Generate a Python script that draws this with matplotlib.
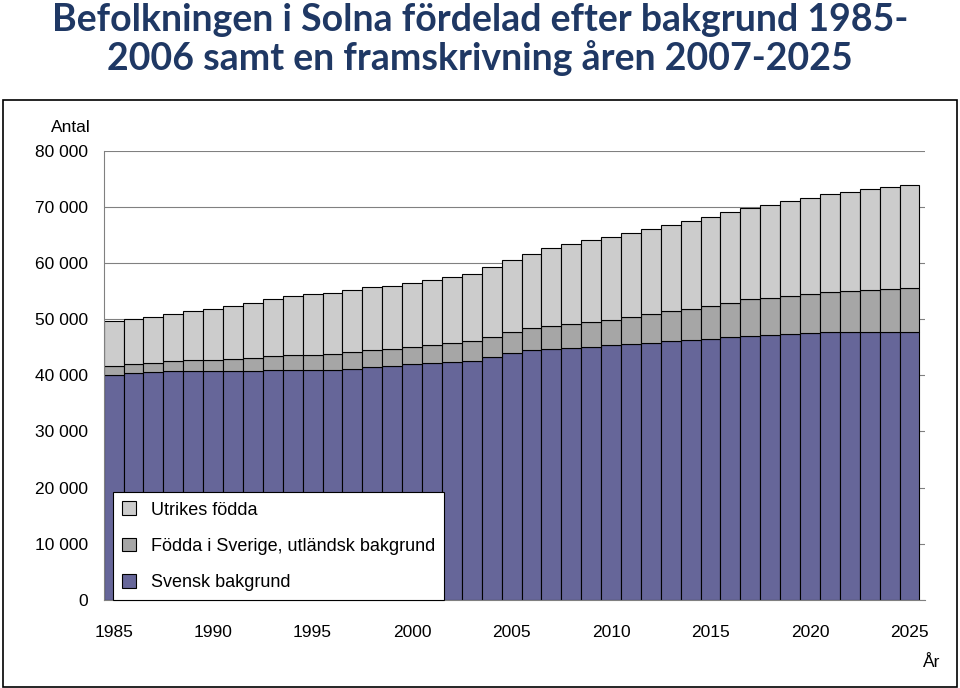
import numpy as np
import matplotlib.pyplot as plt
from matplotlib.patches import Rectangle

years = list(range(1985, 2026))
svensk = [40.1, 40.4, 40.6, 40.8, 40.8, 40.8, 40.8, 40.8, 41.0, 41.0, 40.9, 41.0, 41.2, 41.5, 41.7,
          42.0, 42.2, 42.4, 42.6, 43.3, 44.0, 44.5, 44.7, 44.9, 45.1, 45.4, 45.6, 45.8, 46.1, 46.3,
          46.5, 46.9, 47.0, 47.2, 47.4, 47.6, 47.7, 47.7, 47.7, 47.7, 47.7]
sverige_total = [41.7, 42.0, 42.2, 42.6, 42.8, 42.8, 42.9, 43.1, 43.5, 43.7, 43.7, 43.8, 44.2, 44.5, 44.7,
                 45.1, 45.4, 45.8, 46.1, 46.9, 47.7, 48.5, 48.8, 49.2, 49.5, 49.9, 50.4, 51.0, 51.5, 51.8,
                 52.4, 52.9, 53.5, 53.8, 54.2, 54.5, 54.9, 55.1, 55.2, 55.4, 55.6]
total = [49.7, 50.1, 50.4, 51.0, 51.5, 51.8, 52.4, 52.9, 53.6, 54.2, 54.5, 54.7, 55.2, 55.8, 55.9,
         56.5, 57.0, 57.5, 58.1, 59.2, 60.6, 61.6, 62.7, 63.4, 64.1, 64.7, 65.4, 66.1, 66.8, 67.5,
         68.2, 69.1, 69.8, 70.3, 71.1, 71.6, 72.2, 72.7, 73.2, 73.6, 73.9]

sv = np.array(svensk) * 1000
mid = np.array(sverige_total) * 1000 - sv
utr = np.array(total) * 1000 - np.array(sverige_total) * 1000

plt.rcParams['font.family'] = 'Liberation Sans'
fig = plt.figure(figsize=(9.6, 6.88), dpi=100)
fig.patches.append(Rectangle((0.003, 0.002), 0.994, 0.852, transform=fig.transFigure,
                             fill=False, edgecolor='black', linewidth=1.2))
fig.text(0.5, 0.995, "Befolkningen i Solna fördelad efter bakgrund 1985-\n2006 samt en framskrivning åren 2007-2025",
         ha='center', va='top', fontsize=27, fontweight='bold', color='#1F3864',
         family='Lato', linespacing=1.1)

ax = fig.add_axes([0.108, 0.128, 0.856, 0.653])
kw = dict(width=1.0, edgecolor='black', linewidth=0.8, zorder=2)
ax.bar(years, sv, color='#666699', label='Svensk bakgrund', **kw)
ax.bar(years, mid, bottom=sv, color='#A6A6A6', label='Födda i Sverige, utländsk bakgrund', **kw)
ax.bar(years, utr, bottom=sv + mid, color='#CCCCCC', label='Utrikes födda', **kw)

ax.set_xlim(1984.5, 2025.8)
ax.set_ylim(0, 80000)
ax.set_yticks(range(0, 80001, 10000))
ax.set_yticklabels(['0'] + [f'{v // 1000} 000' for v in range(10000, 80001, 10000)])
ax.set_xticks(range(1985, 2026, 5))
ax.tick_params(labelsize=12.5, length=0)
ax.tick_params(axis='x', pad=18)
ax.tick_params(axis='y', pad=11)
ax.yaxis.grid(True, color='#808080', linewidth=0.8, zorder=0)
ax.set_axisbelow(True)
for s in ['top', 'right']:
    ax.spines[s].set_visible(False)
ax.spines['left'].set_color('#808080')
ax.spines['bottom'].set_color('#808080')
fig.text(0.094, 0.814, 'Antal', ha='right', va='center', fontsize=12.5)
fig.text(0.98, 0.037, 'År', ha='right', va='center', fontsize=12.5)

h, l = ax.get_legend_handles_labels()
leg = ax.legend(h[::-1], l[::-1], loc='lower left', bbox_to_anchor=(0.011, 0.0),
                fontsize=13, frameon=True, fancybox=False, edgecolor='black',
                handlelength=0.8, handleheight=0.8, labelspacing=1.05, borderpad=0.5,
                borderaxespad=0)
leg.get_frame().set_linewidth(0.8)
leg.get_frame().set_alpha(1)

fig.savefig('out.png', dpi=100)
